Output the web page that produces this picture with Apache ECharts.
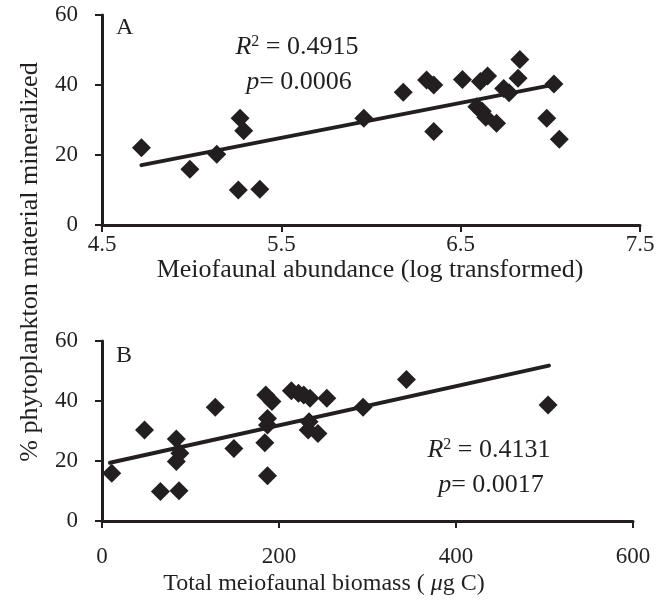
<!DOCTYPE html>
<html>
<head>
<meta charset="utf-8">
<script src="https://cdn.jsdelivr.net/npm/echarts@6/dist/echarts.min.js"></script>
<style>
  html, body { margin: 0; padding: 0; background: #fff; }
  #chart { width: 671px; height: 609px; }
</style>
</head>
<body>
<div id="chart"></div>
<script>
  // panel A: abundance (log) vs % mineralized
  var abundX = [4.72, 4.99, 5.14, 5.27, 5.29, 5.26, 5.38, 5.96, 6.18, 6.31, 6.35, 6.35, 6.51, 6.61, 6.65,
    6.59, 6.62, 6.64, 6.70, 6.74, 6.77, 6.83, 6.82, 7.02, 6.98, 7.05];
  var mineralA = [22.1, 15.9, 20.2, 30.5, 26.9, 10.0, 10.2, 30.5, 37.9, 41.4, 40.0, 26.7, 41.6, 41.0, 42.6,
    33.8, 32.5, 30.8, 29.1, 39.0, 37.8, 47.3, 41.9, 40.3, 30.5, 24.5];
  var trendAx = [4.72, 7.0];
  var trendAy = [17.1, 39.9];

  // panel B: biomass vs % mineralized
  var biomass = [11, 48, 84, 88, 84, 66, 87, 128, 149, 185, 192, 187, 187, 184, 187, 214, 222, 228, 235,
    254, 234, 233, 244, 295, 344, 504];
  var mineralB = [15.9, 30.3, 27.3, 22.6, 19.8, 9.8, 10.1, 37.9, 24.2, 42.0, 39.8, 34.2, 32.0, 26.1, 15.1,
    43.4, 42.6, 42.0, 40.9, 40.9, 33.1, 30.3, 29.2, 37.9, 47.2, 38.7];
  var trendBx = [9, 505];
  var trendBy = [19.4, 51.8];

  var ink = '#231f20';
  var font = '"Liberation Serif", "Times New Roman", serif';

  function pairs(xs, ys) {
    return xs.map(function (x, i) { return [x, ys[i]]; });
  }

  function axisStyle() {
    return {
      axisLine: { show: true, onZero: false, lineStyle: { color: ink, width: 3 } },
      axisTick: { show: true, inside: false, length: 7, lineStyle: { color: ink, width: 2 } },
      splitLine: { show: false }
    };
  }

  function xAxis(idx, min, max, step, margin) {
    var a = axisStyle();
    return Object.assign(a, {
      type: 'value', gridIndex: idx, min: min, max: max, interval: step,
      axisLabel: { fontFamily: font, fontSize: 23, color: ink, margin: margin }
    });
  }

  function yAxis(idx) {
    var a = axisStyle();
    return Object.assign(a, {
      type: 'value', gridIndex: idx, min: 0, max: 60, interval: 20,
      axisLabel: { fontFamily: font, fontSize: 23, color: ink, margin: 24 }
    });
  }

  // R² / p annotation
  function stats(x, y, r2, p) {
    var rich = {
      i: { fontFamily: font, fontSize: 26, fontStyle: 'italic', fill: ink },
      s: { fontFamily: font, fontSize: 16, fill: ink, padding: [0, 0, 10, 0] },
      n: { fontFamily: font, fontSize: 26, fill: ink }
    };
    return [
      { type: 'text', x: x, y: y,
        style: { text: '{i|R}{s|2}{n| = ' + r2 + '}', rich: rich, align: 'center', verticalAlign: 'middle' } },
      { type: 'text', x: x + 2, y: y + 35,
        style: { text: '{i|p}{n|= ' + p + '}', rich: rich, align: 'center', verticalAlign: 'middle' } }
    ];
  }

  var myChart = echarts.init(document.getElementById('chart'));
  var option = {
    backgroundColor: '#fff',
    animation: false,
    grid: [
      { left: 102, top: 15, right: 31, height: 210 },
      { left: 102, top: 341, right: 38, height: 180 }
    ],
    xAxis: [
      xAxis(0, 4.5, 7.5, 1, 8),
      xAxis(1, 0, 600, 200, 24)
    ],
    yAxis: [yAxis(0), yAxis(1)],
    graphic: [
      { type: 'text', x: 30, y: 262, rotation: Math.PI / 2,
        style: { text: '% phytoplankton material mineralized', fontFamily: font, fontSize: 26,
          fill: ink, align: 'center', verticalAlign: 'middle' } },
      { type: 'text', x: 370, y: 270,
        style: { text: 'Meiofaunal abundance (log transformed)', fontFamily: font, fontSize: 26,
          fill: ink, align: 'center', verticalAlign: 'middle' } },
      { type: 'text', x: 324, y: 584,
        style: { text: '{n|Total meiofaunal biomass ( }{it|μ}{n|g C)}', align: 'center', verticalAlign: 'middle',
          rich: {
            n: { fontFamily: font, fontSize: 24, fill: ink },
            it: { fontFamily: font, fontSize: 24, fill: ink, fontStyle: 'italic' }
          } } },
      { type: 'text', x: 116, y: 16,
        style: { text: 'A', fontFamily: font, fontSize: 24, fill: ink } },
      { type: 'text', x: 116, y: 344,
        style: { text: 'B', fontFamily: font, fontSize: 24, fill: ink } }
    ].concat(stats(297, 47, '0.4915', '0.0006'), stats(489, 450, '0.4131', '0.0017')),
    series: [
      {
        type: 'line', xAxisIndex: 0, yAxisIndex: 0, data: pairs(trendAx, trendAy),
        symbol: 'none', lineStyle: { color: ink, width: 4, cap: 'round' }, z: 3
      },
      {
        type: 'scatter', xAxisIndex: 0, yAxisIndex: 0, data: pairs(abundX, mineralA),
        symbol: 'diamond', symbolSize: 19, itemStyle: { color: ink, opacity: 1 }, z: 2
      },
      {
        type: 'line', xAxisIndex: 1, yAxisIndex: 1, data: pairs(trendBx, trendBy),
        symbol: 'none', lineStyle: { color: ink, width: 4, cap: 'round' }, z: 3
      },
      {
        type: 'scatter', xAxisIndex: 1, yAxisIndex: 1, data: pairs(biomass, mineralB),
        symbol: 'diamond', symbolSize: 19, itemStyle: { color: ink, opacity: 1 }, z: 2
      }
    ]
  };
  myChart.setOption(option);
</script>
</body>
</html>
